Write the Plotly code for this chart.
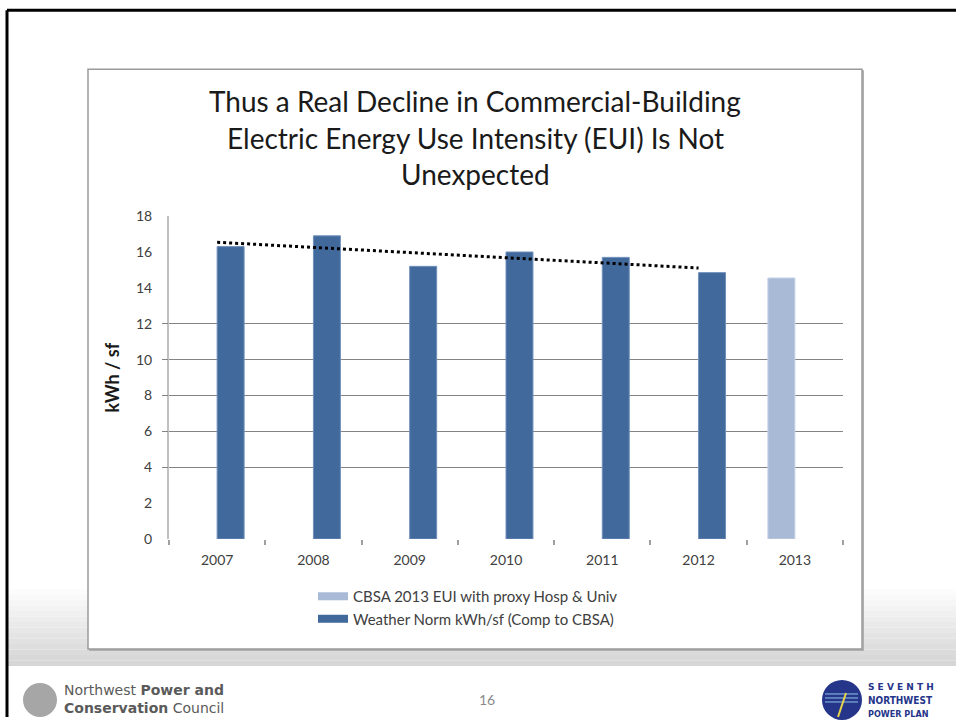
import numpy as np
import plotly.graph_objects as go

# ---------------- data ----------------
years = ["2007", "2008", "2009", "2010", "2011", "2012", "2013"]
weather_norm = [16.3, 16.9, 15.2, 16.0, 15.7, 14.85, None]
cbsa_2013 = [None, None, None, None, None, None, 14.55]
y_ticks = [0, 2, 4, 6, 8, 10, 12, 14, 16, 18]
grid_vals = [4, 6, 8, 10, 12]
title_lines = ["Thus a Real Decline in Commercial-Building",
               "Electric Energy Use Intensity (EUI) Is Not",
               "Unexpected"]
legend_names = ["CBSA 2013 EUI with proxy Hosp & Univ",
                "Weather Norm kWh/sf (Comp to CBSA)"]

# linear trendline (Excel-style) over the weather-normalised series
trend_years = [y for y, v in zip(years, weather_norm) if v is not None]
trend_vals = [v for v in weather_norm if v is not None]
k = np.arange(len(trend_vals))
slope, icpt = np.polyfit(k, trend_vals, 1)
trend_fit = list(icpt + slope * k)

W, H = 956, 730
S, OFF = 0.977, 8
def px(x): return x / W
def py(y): return 1 - (y / S - OFF) / H

DARK = "#41699c"
LIGHT = "#a9bad7"
FONT = "Lato"

fig = go.Figure()
fig.add_trace(go.Bar(x=years, y=cbsa_2013, name=legend_names[0], marker=dict(color=LIGHT, line=dict(color="#c4d0e6", width=1)), showlegend=False))
fig.add_trace(go.Bar(x=years, y=weather_norm, name=legend_names[1], marker=dict(color=DARK, line=dict(color="#6f8fbb", width=1)), showlegend=False))
fig.add_trace(go.Scatter(x=trend_years, y=trend_fit, mode="lines", line=dict(color="black", width=3, dash="dot"), showlegend=False, hoverinfo="skip"))
# legend entries with wide swatches
fig.add_trace(go.Scatter(x=[None], y=[None], mode="lines", name=legend_names[0], line=dict(color=LIGHT, width=8), legendgroup="a"))
fig.add_trace(go.Scatter(x=[None], y=[None], mode="lines", name=legend_names[1], line=dict(color=DARK, width=8), legendgroup="b"))
# overlay axis carrying the gridlines
fig.add_trace(go.Scatter(x=[None], y=[None], yaxis="y2", showlegend=False, hoverinfo="skip"))

shapes = []
# bottom grey gradient band
n = 14
top, bot = 588, 665
for i in range(n):
    y0 = top + (bot - top) * i / n
    y1 = top + (bot - top) * (i + 1) / n
    g = int(255 - (255 - 214) * (i + 1) / n)
    shapes.append(dict(type="rect", xref="paper", yref="paper", x0=px(8), x1=1, y0=py(y1), y1=py(y0),
                       fillcolor=f"rgb({g},{g},{g})", line=dict(width=0), layer="below"))
# slide black border
shapes.append(dict(type="line", xref="paper", yref="paper", x0=px(7), x1=1, y0=py(9), y1=py(9), line=dict(color="black", width=3), layer="below"))
shapes.append(dict(type="line", xref="paper", yref="paper", x0=px(7), x1=px(7), y0=py(9), y1=py(716), line=dict(color="black", width=3), layer="below"))
# chart box shadow + box
shapes.append(dict(type="rect", xref="paper", yref="paper", x0=px(89), x1=px(864), y0=py(650), y1=py(69), fillcolor="#b0b0b0", line=dict(width=0), layer="below"))
shapes.append(dict(type="rect", xref="paper", yref="paper", x0=px(88), x1=px(862), y0=py(648), y1=py(68), fillcolor="white", line=dict(color="#9a9a9a", width=1.5), layer="below"))
# logos (simplified)
shapes.append(dict(type="circle", xref="paper", yref="paper", x0=px(23), x1=px(57), y0=py(716), y1=py(682), fillcolor="#a6a6a6", line=dict(width=0)))
shapes.append(dict(type="circle", xref="paper", yref="paper", x0=px(822), x1=px(862), y0=py(719), y1=py(679), fillcolor="#24358a", line=dict(width=0)))
for yy in [693, 697, 701]:
    shapes.append(dict(type="line", xref="paper", yref="paper", x0=px(825), x1=px(858), y0=py(yy), y1=py(yy), line=dict(color="#8fc4e8", width=1)))
shapes.append(dict(type="line", xref="paper", yref="paper", x0=px(846), x1=px(838), y0=py(692), y1=py(716), line=dict(color="#e8d44a", width=2)))

annotations = []
for i, t in enumerate(title_lines):
    annotations.append(dict(text=t, xref="paper", yref="paper", x=px(475), y=py(100 + 36.5 * i), xanchor="center", yanchor="middle",
                            showarrow=False, font=dict(family=FONT, size=28, color="#1a1a1a")))
annotations += [
    dict(text="Northwest <b>Power and</b>", xref="paper", yref="paper", x=px(62), y=py(689), xanchor="left", yanchor="middle", showarrow=False,
         font=dict(family="DejaVu Sans", size=14, color="#5a5a5a")),
    dict(text="<b>Conservation</b> Council", xref="paper", yref="paper", x=px(62), y=py(707), xanchor="left", yanchor="middle", showarrow=False,
         font=dict(family="DejaVu Sans", size=14, color="#5a5a5a")),
    dict(text="16", xref="paper", yref="paper", x=px(487), y=py(699), xanchor="center", yanchor="middle", showarrow=False,
         font=dict(family=FONT, size=14, color="#8a8a8a")),
    dict(text="<b>S E V E N T H</b>", xref="paper", yref="paper", x=px(866), y=py(686), xanchor="left", yanchor="middle", showarrow=False,
         font=dict(family="DejaVu Sans", size=9, color="#24358a")),
    dict(text="<b>NORTHWEST</b>", xref="paper", yref="paper", x=px(866), y=py(700), xanchor="left", yanchor="middle", showarrow=False,
         font=dict(family="DejaVu Sans Condensed", size=10, color="#24358a")),
    dict(text="<b>POWER PLAN</b>", xref="paper", yref="paper", x=px(866), y=py(713), xanchor="left", yanchor="middle", showarrow=False,
         font=dict(family="DejaVu Sans Condensed", size=9, color="#24358a")),
]

fig.update_layout(
    width=W, height=H,
    margin=dict(l=0, r=0, t=0, b=0),
    paper_bgcolor="white", plot_bgcolor="rgba(0,0,0,0)",
    barmode="group", bargap=0.44, bargroupgap=0,
    font=dict(family=FONT, size=14, color="#404040"),
    xaxis=dict(domain=[px(169), px(843)], type="category", categoryorder="array", categoryarray=years,
               showgrid=False, showline=False, zeroline=False,
               ticks="outside", tickson="boundaries", ticklen=5, tickcolor="#a0a0a0", tickwidth=1.5,
               ticklabelstandoff=11,
               tickfont=dict(family=FONT, size=14, color="#404040"), anchor="y"),
    yaxis=dict(domain=[py(538), py(215)], range=[0, 18], tickvals=y_ticks, showgrid=False, zeroline=False,
               showline=True, linecolor="#c0c0c0", linewidth=2, ticks="", ticklabelstandoff=12,
               tickfont=dict(family=FONT, size=14, color="#404040"),
               title=dict(text="<b>kWh / sf</b>", font=dict(family=FONT, size=18, color="#1a1a1a"), standoff=12)),
    yaxis2=dict(domain=[py(538), py(215)], overlaying="y", range=[0, 18], tickvals=grid_vals, showticklabels=False,
                showgrid=True, gridcolor="#848484", gridwidth=1, zeroline=False, showline=False,
                ticks="outside", ticklen=6, tickcolor="#848484", side="left", anchor="x"),
    legend=dict(x=px(313), y=py(579), xanchor="left", yanchor="top", bgcolor="rgba(0,0,0,0)",
                font=dict(family=FONT, size=15, color="#404040"), tracegroupgap=0, itemwidth=30),
    shapes=shapes, annotations=annotations,
)

fig.write_html("out.html")
